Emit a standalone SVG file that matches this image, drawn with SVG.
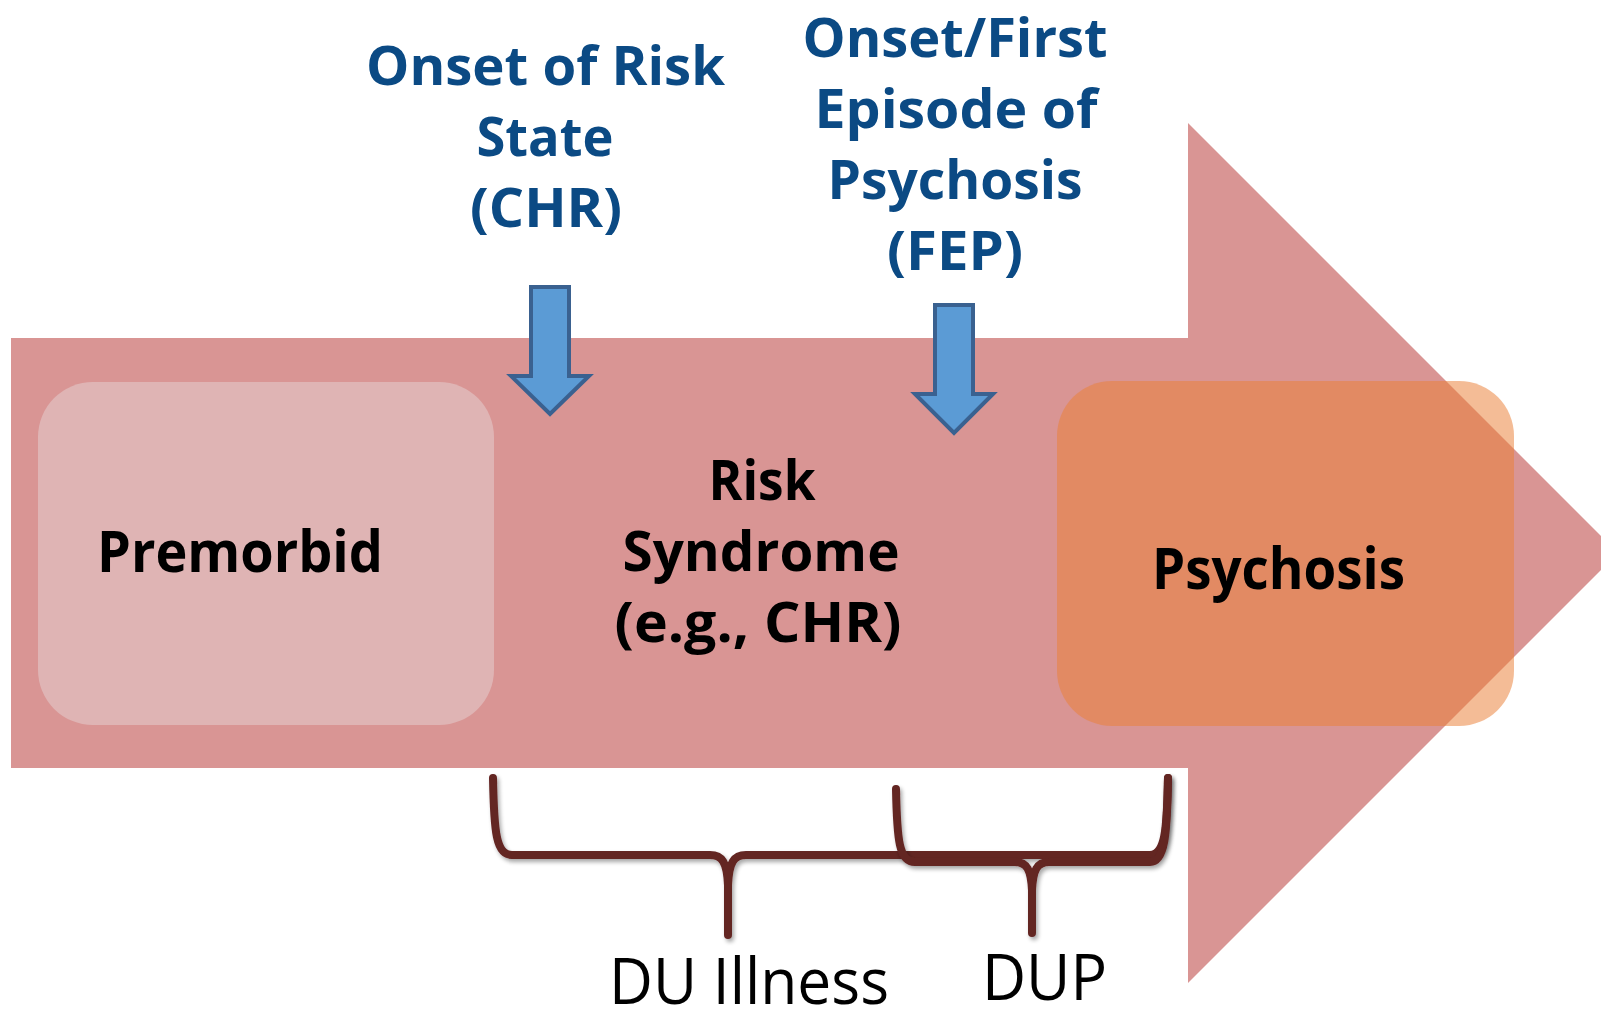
<svg xmlns="http://www.w3.org/2000/svg" width="1601" height="1020" viewBox="0 0 1601 1020">
<defs>
<style>
.lbl{font-family:"Open Sans","Noto Sans","Liberation Sans",sans-serif;font-weight:bold;text-anchor:middle}
.blue{fill:#0B4A84;font-size:54px}
.blk{fill:#000;font-size:58px}
.mid{fill:#000;font-size:55px}
.reg{font-family:"Open Sans","Noto Sans","Liberation Sans",sans-serif;font-weight:normal;fill:#000;font-size:64px;text-anchor:middle}
.down{fill:#5B9BD5;stroke:#3A6190;stroke-width:4;stroke-linejoin:miter}
.brace{fill:none;stroke:#632523;stroke-width:8;stroke-linecap:round;stroke-linejoin:round}
</style>
<filter id="sh" x="-5%" y="-10%" width="110%" height="130%">
<feGaussianBlur in="SourceAlpha" stdDeviation="2"/>
<feOffset dx="2" dy="3" result="b"/>
<feComponentTransfer><feFuncA type="linear" slope="0.35"/></feComponentTransfer>
<feMerge><feMergeNode/><feMergeNode in="SourceGraphic"/></feMerge>
</filter>
</defs>
<rect width="1601" height="1020" fill="#fff"/>
<g id="timeline-arrow">
<polygon points="11,338 1188,338 1188,123 1618,553 1188,983 1188,768 11,768" fill="#D99594"/>
</g>
<g id="premorbid">
<rect x="38" y="382" width="456" height="343" rx="55" ry="55" fill="#DFB4B4"/>
<text class="lbl blk" x="240" y="572" textLength="286" lengthAdjust="spacingAndGlyphs">Premorbid</text>
</g>
<g id="risk-syndrome">
<text class="lbl mid" x="762" y="500" textLength="107" lengthAdjust="spacingAndGlyphs">Risk</text>
<text class="lbl mid" x="761" y="571" textLength="277" lengthAdjust="spacingAndGlyphs">Syndrome</text>
<text class="lbl mid" x="758" y="642" textLength="287" lengthAdjust="spacingAndGlyphs">(e.g., CHR)</text>
</g>
<g id="psychosis">
<rect x="1057" y="381" width="457" height="345" rx="55" ry="55" fill="#EA8039" fill-opacity="0.53"/>
<text class="lbl blk" x="1278.5" y="589" textLength="253" lengthAdjust="spacingAndGlyphs">Psychosis</text>
</g>
<g id="onset-risk">
<text class="lbl blue" x="545.5" y="85" textLength="359" lengthAdjust="spacingAndGlyphs">Onset of Risk</text>
<text class="lbl blue" x="545" y="156" textLength="137" lengthAdjust="spacingAndGlyphs">State</text>
<text class="lbl blue" x="546" y="227" textLength="152" lengthAdjust="spacingAndGlyphs">(CHR)</text>
</g>
<g id="onset-fep">
<text class="lbl blue" x="955" y="57" textLength="305" lengthAdjust="spacingAndGlyphs">Onset/First</text>
<text class="lbl blue" x="956" y="128" textLength="283" lengthAdjust="spacingAndGlyphs">Episode of</text>
<text class="lbl blue" x="955" y="199" textLength="255" lengthAdjust="spacingAndGlyphs">Psychosis</text>
<text class="lbl blue" x="955" y="270" textLength="136" lengthAdjust="spacingAndGlyphs">(FEP)</text>
</g>
<g id="du-illness">
<text class="reg" x="749" y="1004" textLength="280" lengthAdjust="spacingAndGlyphs">DU Illness</text>
</g>
<g id="dup">
<text class="reg" x="1044.5" y="1000" textLength="125" lengthAdjust="spacingAndGlyphs">DUP</text>
</g>
<g id="connectors">
<polygon class="down" points="531,287 569,287 569,376 589,376 550,414 511,376 531,376"/>
<polygon class="down" points="935,305 973,305 973,394 993,394 954,433 915,394 935,394"/>
<path class="brace" filter="url(#sh)" d="M493,778 C494,832 496,855 512,855 L710,855 C722,855 727,862 728,885 L728,935 M728,885 C729,862 734,855 746,855 L1150,855 C1165,855 1167,830 1168,778"/>
<path class="brace" filter="url(#sh)" d="M896,789 C897,840 899,862 915,862 L1015,862 C1027,862 1031,870 1032,890 L1032,933 M1032,890 C1033,870 1037,862 1049,862 L1150,862 C1165,862 1167,835 1168,778"/>
</g>
</svg>
